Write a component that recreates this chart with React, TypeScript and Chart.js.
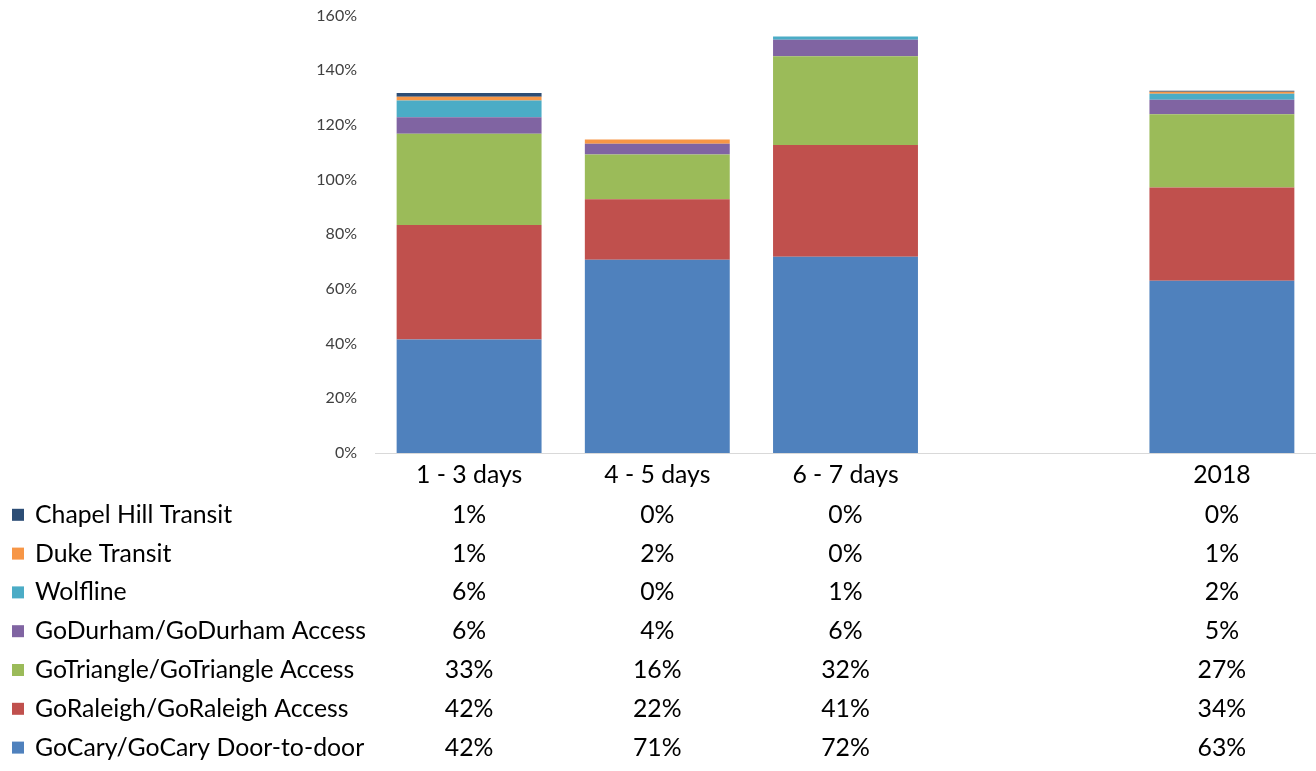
import React, { useEffect, useRef } from "react";
import { Chart, registerables } from "chart.js";

Chart.register(...registerables);

const FONT = "Lato, 'Open Sans', sans-serif";

const categories = ["1 - 3 days", "4 - 5 days", "6 - 7 days", "", "2018"];

// stacked bottom to top
const goCary = [41.5, 70.7, 71.8, null, 63.0];
const goRaleigh = [41.9, 22.1, 40.9, null, 34.1];
const goTriangle = [33.4, 16.4, 32.4, null, 26.8];
const goDurham = [6.0, 3.9, 6.1, null, 5.3];
const wolfline = [6.1, 0, 1.2, null, 2.2];
const dukeTransit = [1.4, 1.6, 0, null, 0.7];
const chapelHill = [1.4, 0, 0, null, 0.4];

const seriesNames = [
  "GoCary/GoCary Door-to-door",
  "GoRaleigh/GoRaleigh Access",
  "GoTriangle/GoTriangle Access",
  "GoDurham/GoDurham Access",
  "Wolfline",
  "Duke Transit",
  "Chapel Hill Transit",
];
const seriesValues = [goCary, goRaleigh, goTriangle, goDurham, wolfline, dukeTransit, chapelHill];
const seriesColors = ["#4F81BD", "#C0504D", "#9BBB59", "#8064A2", "#4BACC6", "#F79646", "#2C4D75"];

const yMin = 0;
const yMax = 160;
const yStep = 20;

const ROW_TOP = 514.8;
const ROW_STEP = 38.8;
const TEXT_SIZE = 24.8;

const tablePlugin = {
  id: "dataTable",
  afterDraw(chart: any) {
    const ctx = chart.ctx;
    const xs = chart.scales.x;
    ctx.save();
    ctx.font = `${TEXT_SIZE}px ${FONT}`;
    ctx.textBaseline = "middle";
    const rows = [...chart.data.datasets].reverse();
    rows.forEach((ds: any, i: number) => {
      const y = ROW_TOP + i * ROW_STEP;
      ctx.fillStyle = ds.backgroundColor;
      ctx.fillRect(12, y - 6, 12, 12);
      ctx.fillStyle = "#000000";
      ctx.textAlign = "left";
      ctx.fillText(ds.label, 35, y);
      ctx.textAlign = "center";
      ds.data.forEach((v: number | null, j: number) => {
        if (v == null) return;
        ctx.fillText(Math.round(v) + "%", xs.getPixelForValue(j), y);
      });
    });
    ctx.restore();
  },
};

export default function App() {
  const ref = useRef<HTMLCanvasElement>(null);
  useEffect(() => {
    document.body.style.margin = "0";
    const chart = new Chart(ref.current as HTMLCanvasElement, {
      type: "bar",
      data: {
        labels: categories,
        datasets: seriesNames.map((name, i) => ({
          label: name,
          data: seriesValues[i],
          backgroundColor: seriesColors[i],
          borderWidth: 0,
          barPercentage: 0.77,
          categoryPercentage: 1,
        })),
      },
      options: {
        responsive: false,
        animation: false,
        layout: { padding: { top: 0, right: 0, left: 0, bottom: 0 } },
        plugins: {
          legend: { display: false },
          tooltip: { enabled: false },
        },
        scales: {
          x: {
            stacked: true,
            grid: { display: false, drawTicks: false },
            border: { display: true, color: "#D9D9D9", width: 1 },
            ticks: {
              color: "#000000",
              font: { family: FONT, size: TEXT_SIZE },
              padding: 7,
              maxRotation: 0,
              autoSkip: false,
            },
            afterFit: (axis: any) => {
              axis.height = 318;
            },
          },
          y: {
            stacked: true,
            min: yMin,
            max: yMax,
            grid: { display: false, drawTicks: true, tickLength: 12, tickColor: "rgba(0,0,0,0)" },
            border: { display: false },
            ticks: {
              stepSize: yStep,
              color: "#404040",
              font: { family: FONT, size: 16 },
              padding: 6,
              callback: (v: any) => `${v}%`,
            },
            afterFit: (axis: any) => {
              axis.width = 375;
            },
          },
        },
      },
      plugins: [tablePlugin],
    });
    return () => chart.destroy();
  }, []);
  return (
    <div style={{ width: 1316, height: 771, background: "#fff" }}>
      <canvas ref={ref} width={1316} height={771} style={{ display: "block" }} />
    </div>
  );
}
